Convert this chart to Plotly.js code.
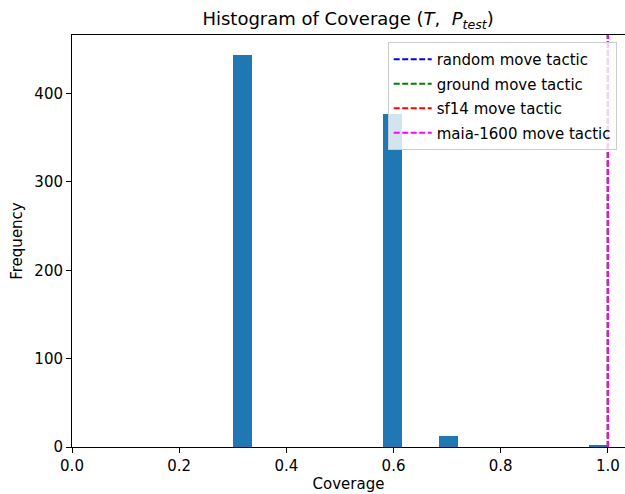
<!DOCTYPE html>
<html>
<head>
<meta charset="utf-8">
<script src="https://cdn.plot.ly/plotly-3.0.1.min.js"></script>
<style>html,body{margin:0;padding:0;background:#fff;}#chart{width:625px;height:494px;}</style>
</head>
<body>
<div id="chart"></div>
<script>
// Histogram counts (20 bins from 0.30 to 1.00)
const binStart = 0.3;
const binWidth = 0.035;
const counts = [444, 0, 0, 0, 0, 0, 0, 0, 377, 0, 0, 13, 0, 0, 0, 0, 0, 0, 0, 2];
// Vertical reference lines
const tacticNames = ["random move tactic", "ground move tactic", "sf14 move tactic", "maia-1600 move tactic"];
const tacticValues = [1.0, 1.0, 1.0, 1.0];
const tacticColors = ["#0000ff", "#008000", "#ff0000", "#ff00ff"];
const xTicks = [0.0, 0.2, 0.4, 0.6, 0.8, 1.0];
const xTickText = ["0.0", "0.2", "0.4", "0.6", "0.8", "1.0"];
const yTicks = [0, 100, 200, 300, 400];

const centers = counts.map((c, i) => binStart + (i + 0.5) * binWidth);
const yTop = Math.max(...counts) * 1.05;

const traces = [{
  type: 'bar', x: centers, y: counts, width: binWidth,
  marker: {color: '#1f77b4', line: {width: 0}}, showlegend: false, hoverinfo: 'skip'
}];
tacticNames.forEach((n, i) => {
  traces.push({
    type: 'scatter', mode: 'lines', name: n, legendgroup: 'g' + i,
    x: [tacticValues[i], tacticValues[i]], y: [0, yTop],
    line: {color: tacticColors[i], width: 2, dash: '6px,2.5px'}
  });
});

const font = {family: 'DejaVu Sans', size: 15, color: '#000'};
const layout = {
  width: 625, height: 494,
  margin: {l: 72, r: 0, t: 35, b: 47, pad: 0},
  paper_bgcolor: '#fff', plot_bgcolor: '#fff',
  font: font,
  bargap: 0,
  title: {text: 'Histogram of Coverage (<i>T</i>,  <i>P</i><sub><i>test</i></sub>)', x: 0.557, xanchor: 'center', y: 0.962, yanchor: 'middle', font: {family: 'DejaVu Sans', size: 18, color: '#000'}},
  xaxis: {
    range: [0, 1.032], tickvals: xTicks, ticktext: xTickText,
    showgrid: false, zeroline: false, showline: true, linecolor: '#000', linewidth: 1, mirror: true,
    ticks: 'outside', ticklen: 5, tickwidth: 1, tickcolor: '#000',
    title: {text: 'Coverage', font: font, standoff: 4}
  },
  yaxis: {
    range: [0, yTop], tickvals: yTicks,
    showgrid: false, zeroline: false, showline: true, linecolor: '#000', linewidth: 1, mirror: true,
    ticks: 'outside', ticklen: 5, tickwidth: 1, tickcolor: '#000',
    title: {text: 'Frequency', font: font, standoff: 8}
  },
  legend: {
    x: 0.985, xanchor: 'right', y: 0.983, yanchor: 'top',
    bgcolor: 'rgba(255,255,255,0.8)', bordercolor: '#cccccc', borderwidth: 1,
    font: font, itemwidth: 38, tracegroupgap: 2
  }
};
Plotly.newPlot('chart', traces, layout, {staticPlot: true, displayModeBar: false});
</script>
</body>
</html>
